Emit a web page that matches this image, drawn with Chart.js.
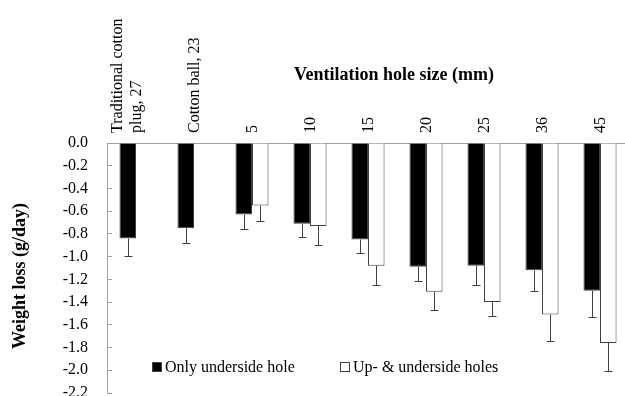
<!DOCTYPE html>
<html>
<head>
<meta charset="utf-8">
<script src="https://cdn.jsdelivr.net/npm/chart.js@4.4.0/dist/chart.umd.min.js"></script>
<style>
  html, body { margin: 0; padding: 0; background: #fff; overflow: hidden; }
  #wrap { width: 632px; height: 396px; }
</style>
</head>
<body>
<div id="wrap"><canvas id="myChart" width="632" height="396"></canvas></div>
<script>
// categories along the top axis
var categories = [['Traditional cotton', 'plug, 27'], 'Cotton ball, 23', '5', '10', '15', '20', '25', '36', '45'];

// weight loss (g/day)
var onlyUnderside = [-0.84, -0.75, -0.63, -0.71, -0.85, -1.09, -1.08, -1.12, -1.30];
var upAndUnderside = [null, null, -0.55, -0.73, -1.08, -1.31, -1.40, -1.51, -1.76];

// error bar sizes (drawn downward only)
var errOnlyUnderside = [0.15, 0.13, 0.13, 0.12, 0.12, 0.12, 0.17, 0.18, 0.23];
var errUpAndUnderside = [null, null, 0.135, 0.17, 0.17, 0.16, 0.12, 0.235, 0.25];

var yMin = -2.2;
var yMax = 0;
var yStep = 0.2;

var xTitle = 'Ventilation hole size (mm)';
var yTitle = 'Weight loss (g/day)';

Chart.defaults.font.family = "'Liberation Serif', 'Times New Roman', serif";
Chart.defaults.color = '#000';

var errorBars = {
  id: 'errorBars',
  afterDatasetsDraw: function(chart) {
    var ctx = chart.ctx;
    var yScale = chart.scales.y;
    var errs = [errOnlyUnderside, errUpAndUnderside];
    ctx.save();
    ctx.strokeStyle = '#404040';
    ctx.lineWidth = 1;
    chart.data.datasets.forEach(function(ds, i) {
      var meta = chart.getDatasetMeta(i);
      meta.data.forEach(function(bar, j) {
        var v = ds.data[j];
        var e = errs[i][j];
        if (v == null || e == null) return;
        var x = Math.round(bar.x) + 0.5;
        var y0 = bar.y;
        var y1 = Math.round(yScale.getPixelForValue(v - e)) + 0.5;
        ctx.beginPath();
        ctx.moveTo(x, y0);
        ctx.lineTo(x, y1);
        ctx.moveTo(x - 4, y1);
        ctx.lineTo(x + 4, y1);
        ctx.stroke();
      });
    });
    ctx.restore();
  }
};

var extraText = {
  id: 'extraText',
  afterDraw: function(chart) {
    var ctx = chart.ctx;
    var area = chart.chartArea;
    ctx.save();
    ctx.fillStyle = '#000';
    ctx.textAlign = 'center';
    ctx.textBaseline = 'middle';

    // x axis title, sits among the rotated labels
    ctx.font = "bold 18px 'Liberation Serif'";
    ctx.fillText(xTitle, area.left + 287, 75);

    // y axis title
    ctx.save();
    ctx.translate(20, area.top + 133);
    ctx.rotate(-Math.PI / 2);
    ctx.fillText(yTitle, 0, 0);
    ctx.restore();

    // legend inside the plot area
    ctx.font = "16px 'Liberation Serif'";
    ctx.textAlign = 'left';
    var lx = [area.left + 45, area.left + 233];
    var ly = area.bottom - 26;
    chart.data.datasets.forEach(function(ds, i) {
      ctx.fillStyle = ds.backgroundColor;
      ctx.fillRect(lx[i], ly - 5, 10, 10);
      ctx.strokeStyle = '#404040';
      ctx.lineWidth = 1;
      ctx.strokeRect(lx[i] + 0.5, ly - 4.5, 9, 9);
      ctx.fillStyle = '#000';
      ctx.fillText(ds.label, lx[i] + 13, ly + 1);
    });
    ctx.restore();
  }
};

var ctx = document.getElementById('myChart').getContext('2d');
var myChart = new Chart(ctx, {
  type: 'bar',
  data: {
    labels: categories,
    datasets: [{
      label: 'Only underside hole',
      data: onlyUnderside,
      backgroundColor: '#000000',
      borderColor: '#404040',
      borderWidth: 1
    }, {
      label: 'Up- & underside holes',
      data: upAndUnderside,
      backgroundColor: '#ffffff',
      borderColor: '#404040',
      borderWidth: 1
    }]
  },
  options: {
    responsive: false,
    animation: false,
    categoryPercentage: 0.57,
    barPercentage: 1.0,
    layout: {
      padding: { left: 0, right: 3, top: 0, bottom: 3 }
    },
    plugins: {
      legend: false,
      tooltip: false
    },
    scales: {
      x: {
        position: 'top',
        grid: { display: true, drawOnChartArea: false, drawTicks: false },
        border: { display: true, color: '#a0a0a0', width: 1 },
        ticks: {
          minRotation: 90,
          maxRotation: 90,
          autoSkip: false,
          padding: 10,
          labelOffset: 20,
          font: { size: 16 }
        },
        afterFit: function(scale) { scale.height = 143; }
      },
      y: {
        min: yMin,
        max: yMax,
        grid: { display: true, drawOnChartArea: false, drawTicks: true, tickLength: -5, color: '#a0a0a0' },
        border: { display: true, color: '#a0a0a0', width: 1 },
        ticks: {
          stepSize: yStep,
          autoSkip: false,
          padding: 24,
          font: { size: 16 },
          callback: function(v) { return Number(v).toFixed(1); }
        },
        afterFit: function(scale) {
          scale.width = 107;
          scale.paddingTop = 0;
          scale.paddingBottom = 0;
        }
      }
    }
  },
  plugins: [errorBars, extraText]
});
</script>
</body>
</html>
